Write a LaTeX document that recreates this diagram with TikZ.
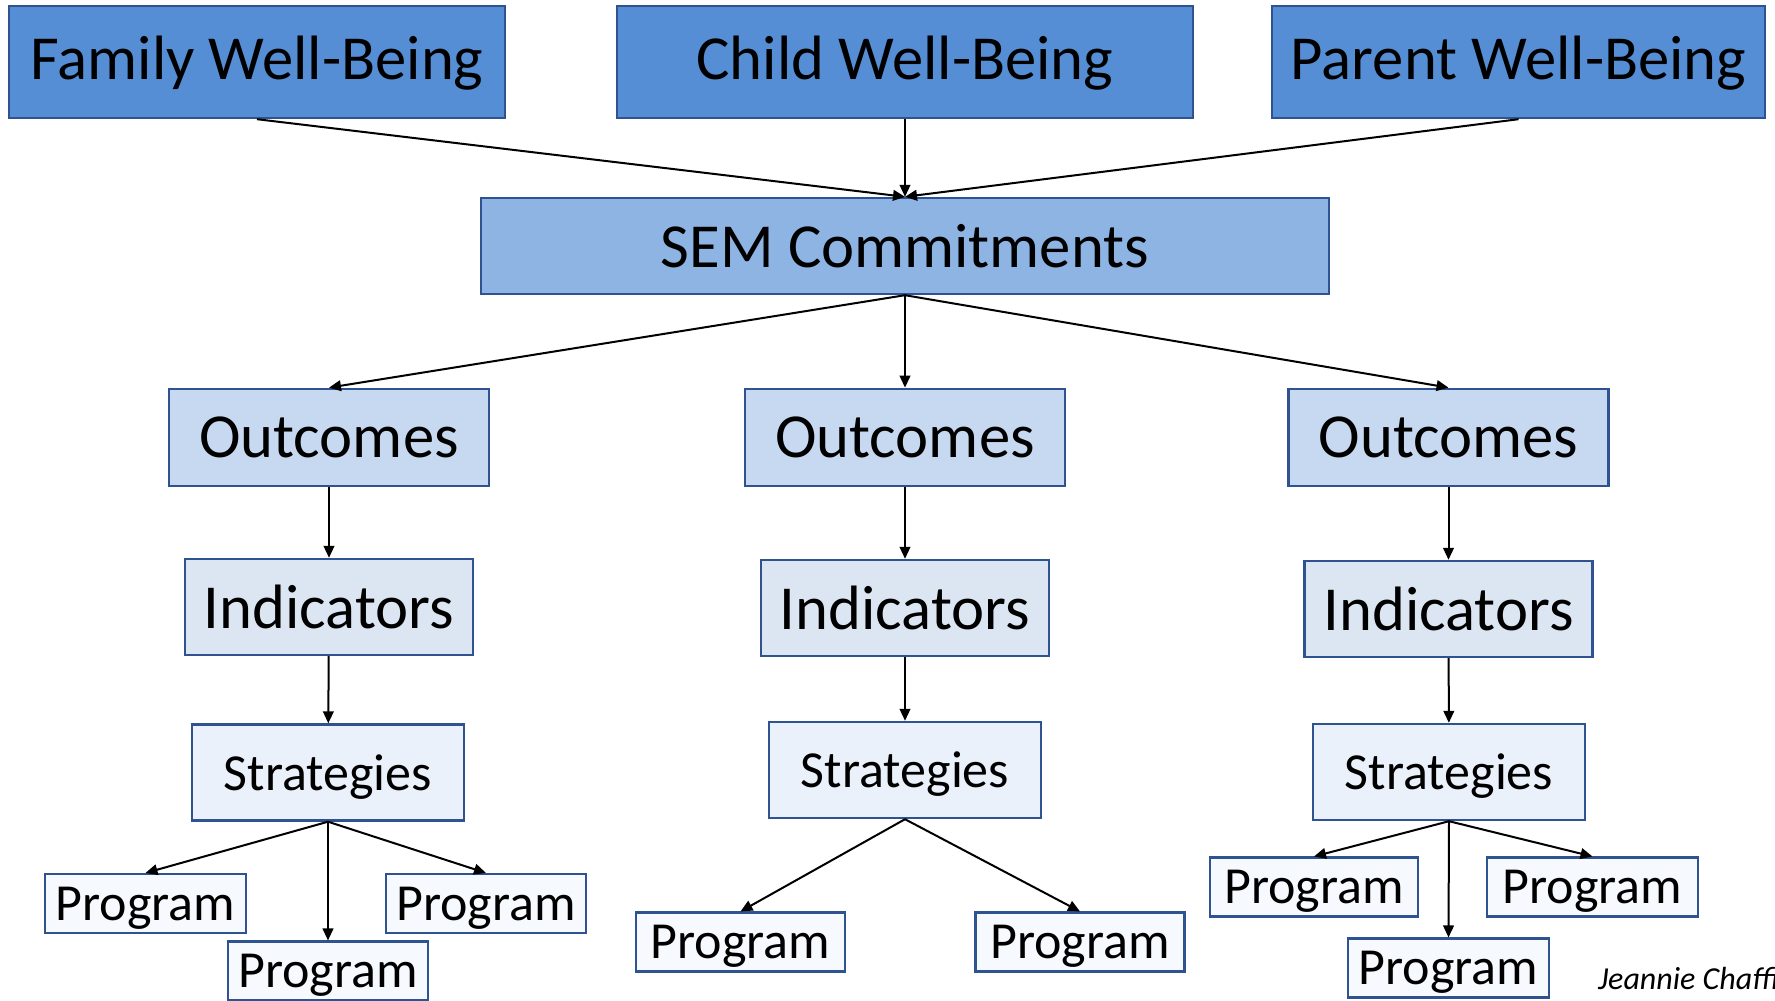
\documentclass[tikz,border=0pt]{standalone}
\usepackage{fontspec}
\setmainfont{Carlito}
\usetikzlibrary{arrows.meta}

\definecolor{boxline}{HTML}{2F5391}
\definecolor{wellfill}{HTML}{558ED5}
\definecolor{semfill}{HTML}{8EB4E3}
\definecolor{outfill}{HTML}{C6D9F1}
\definecolor{indfill}{HTML}{DCE6F2}
\definecolor{strfill}{HTML}{EBF1FA}
\definecolor{progfill}{HTML}{F6F9FD}

\tikzset{every picture/.style={line width=1.5pt}}
\tikzset{
  box/.style={draw=boxline, line width=1.8pt, inner sep=0pt, text=black},
  wellbox/.style={box, fill=wellfill, minimum height=84pt, text depth=6pt, font=\fontsize{47}{56}\selectfont},
  sembox/.style={box, fill=semfill, minimum width=636pt, minimum height=72pt, font=\fontsize{47}{56}\selectfont},
  outbox/.style={box, fill=outfill, minimum width=240pt, minimum height=73pt, font=\fontsize{47}{56}\selectfont},
  indbox/.style={box, fill=indfill, minimum width=216pt, minimum height=72pt, font=\fontsize{47}{56}\selectfont},
  strbox/.style={box, fill=strfill, minimum width=204pt, minimum height=72pt, text depth=0pt, font=\fontsize{39}{47}\selectfont},
  progbox/.style={box, fill=progfill, minimum height=44pt, text depth=0pt, font=\fontsize{39}{47}\selectfont},
  link/.style={-{Triangle[length=9pt,width=8pt]}, line width=1.5pt}
}

\begin{document}
\begin{tikzpicture}[x=0.75pt,y=0.75pt,yscale=-1,xscale=1]
\useasboundingbox (0,0) rectangle (1775,1000);

%Top row
\node [wellbox, minimum width=372pt] (family) at (257,62) {Family Well-Being};
\node [wellbox, minimum width=432pt] (child) at (905,62) {Child Well-Being};
\node [wellbox, minimum width=370pt] (parent) at (1518.5,62) {Parent Well-Being};

%Commitments
\node [sembox] (sem) at (905,246) {SEM Commitments};

%Outcomes
\node [outbox] (outL) at (329,437.5) {Outcomes};
\node [outbox] (outM) at (905,437.5) {Outcomes};
\node [outbox] (outR) at (1448.5,437.5) {Outcomes};

%Indicators
\node [indbox] (indL) at (329,607) {Indicators};
\node [indbox] (indM) at (905,608) {Indicators};
\node [indbox] (indR) at (1448.5,609) {Indicators};

%Strategies
\node [strbox] (strL) at (328,772.5) {Strategies};
\node [strbox] (strM) at (905,770) {Strategies};
\node [strbox] (strR) at (1449,772) {Strategies};

%Programs
\node [progbox, minimum width=151pt] (progL1) at (145.5,903.5) {Program};
\node [progbox, minimum width=150pt] (progL2) at (328,971) {Program};
\node [progbox, minimum width=150pt] (progL3) at (486,903.5) {Program};
\node [progbox, minimum width=157pt] (progM1) at (740.5,942) {Program};
\node [progbox, minimum width=157pt] (progM2) at (1080,942) {Program};
\node [progbox, minimum width=156pt] (progR1) at (1314,887) {Program};
\node [progbox, minimum width=151pt] (progR2) at (1448.5,968) {Program};
\node [progbox, minimum width=158pt] (progR3) at (1592.5,887) {Program};

%Straight Lines
\draw [link] (family.south) -- (sem.north);
\draw [link] (child.south) -- (sem.north);
\draw [link] (parent.south) -- (sem.north);
\draw [link] (sem.south) -- (outL.north);
\draw [link] (sem.south) -- (outM.north);
\draw [link] (sem.south) -- (outR.north);
\draw [link] (outL) -- (indL);
\draw [link] (outM) -- (indM);
\draw [link] (outR) -- (indR);
\draw [link] (indL) -- (strL);
\draw [link] (indM) -- (strM);
\draw [link] (indR) -- (strR);
\draw [link] (strL.south) -- (progL1.north);
\draw [link] (strL.south) -- (progL2.north);
\draw [link] (strL.south) -- (progL3.north);
\draw [link] (strM.south) -- (progM1.north);
\draw [link] (strM.south) -- (progM2.north);
\draw [link] (strR.south) -- (progR1.north);
\draw [link] (strR.south) -- (progR2.north);
\draw [link] (strR.south) -- (progR3.north);

% Text Node
\begin{scope}
\clip (0,0) rectangle (1775,1000);
\node [anchor=base west, inner sep=0pt, font=\fontsize{24}{29}\selectfont\itshape] (credit) at (1597,989) {Jeannie Chaffin};
\end{scope}
\end{tikzpicture}
\end{document}
